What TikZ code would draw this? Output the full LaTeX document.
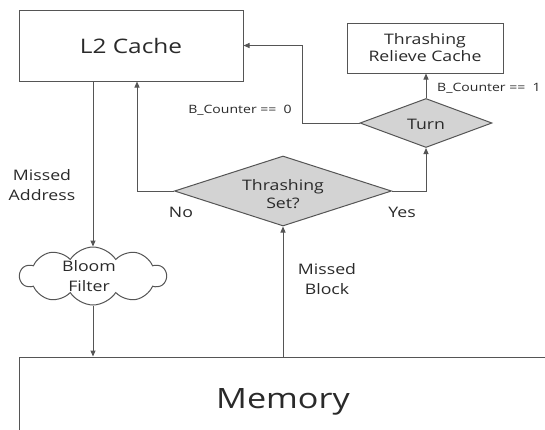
\documentclass[tikz,border=0pt]{standalone}
\usepackage{fontspec}
\setmainfont[FakeStretch=1.22]{Open Sans}
\usetikzlibrary{shapes.geometric,shapes.symbols,arrows.meta}
\definecolor{linec}{HTML}{555555}
\definecolor{textc}{HTML}{2A2A2A}
\definecolor{dfill}{HTML}{D3D3D3}
\tikzset{
  boxn/.style={draw=linec, line width=1pt, rectangle, inner sep=0pt, text=textc},
  decn/.style={draw=linec, line width=1pt, diamond, fill=dfill, inner sep=0pt},
  lbl/.style={text=textc, inner sep=0pt, align=center, font=\fontsize{14.5}{20}\selectfont},
  small/.style={text=textc, inner sep=0pt, font=\fontsize{11.5}{13}\selectfont},
  arr/.style={draw=linec, line width=1pt, -{Triangle[length=6pt,width=5pt]}},
}
\begin{document}
\begin{tikzpicture}[x=1pt,y=-1pt]
\useasboundingbox (0,0) rectangle (545,429);
\clip (0,0) rectangle (545,429);
\fill[white] (0,0) rectangle (545,429);

\node[boxn, minimum width=224pt, minimum height=71pt, font=\fontsize{20}{24}\selectfont] (L2) at (131,45.5) {L2 Cache};
\node[boxn, minimum width=156pt, minimum height=50pt, align=center, font=\fontsize{14.5}{17}\selectfont] (trc) at (425,48) {Thrashing\\Relieve Cache};
\node[decn, minimum width=132pt, minimum height=49pt] (turn) at (426,123) {};
\node[lbl] (turnt) at (426,124) {Turn};
\node[decn, minimum width=217pt, minimum height=70pt] (set) at (283,191) {};
\node[lbl, font=\fontsize{14.5}{18}\selectfont] (sett) at (283,194) {Thrashing\\Set?};
\node[draw=linec, line width=1pt, cloud, cloud puffs=10, cloud puff arc=115, aspect=2.4, minimum width=146pt, minimum height=58pt, inner sep=0pt] (bloom) at (93,276) {};
\node[lbl] (bloomt) at (89,276) {Bloom\\Filter};
\node[boxn, minimum width=528pt, minimum height=90pt, font=\fontsize{28}{32}\selectfont] (mem) at (283,402) {Memory};

\coordinate (bend) at (302,123);

\draw[arr] (L2.south -| bloom.north) -- (bloom.north);
\draw[arr] (bloom.south) -- (bloom.south |- mem.north);
\draw[arr] (mem.north) -- (set.south);
\draw[arr] (set.west) -| ([xshift=6pt]L2.south);
\draw[arr] (set.east) -| (turn.south);
\draw[arr] (turn.north) -- (turn.north |- trc.south);
\draw[arr] (turn.west) -- (bend) |- (L2.east);

\node[lbl] (ma) at (42,185) {Missed\\Address};
\node[lbl] (mb) at (327,279) {Missed\\Block};
\node[lbl] (no) at (181,212) {No};
\node[lbl] (yes) at (402,212) {Yes};
\node[small] (b0) at (240,110) {B\_Counter ==~~0};
\node[small, anchor=west] (b1) at (437,88) {B\_Counter ==~~1};
\end{tikzpicture}
\end{document}
